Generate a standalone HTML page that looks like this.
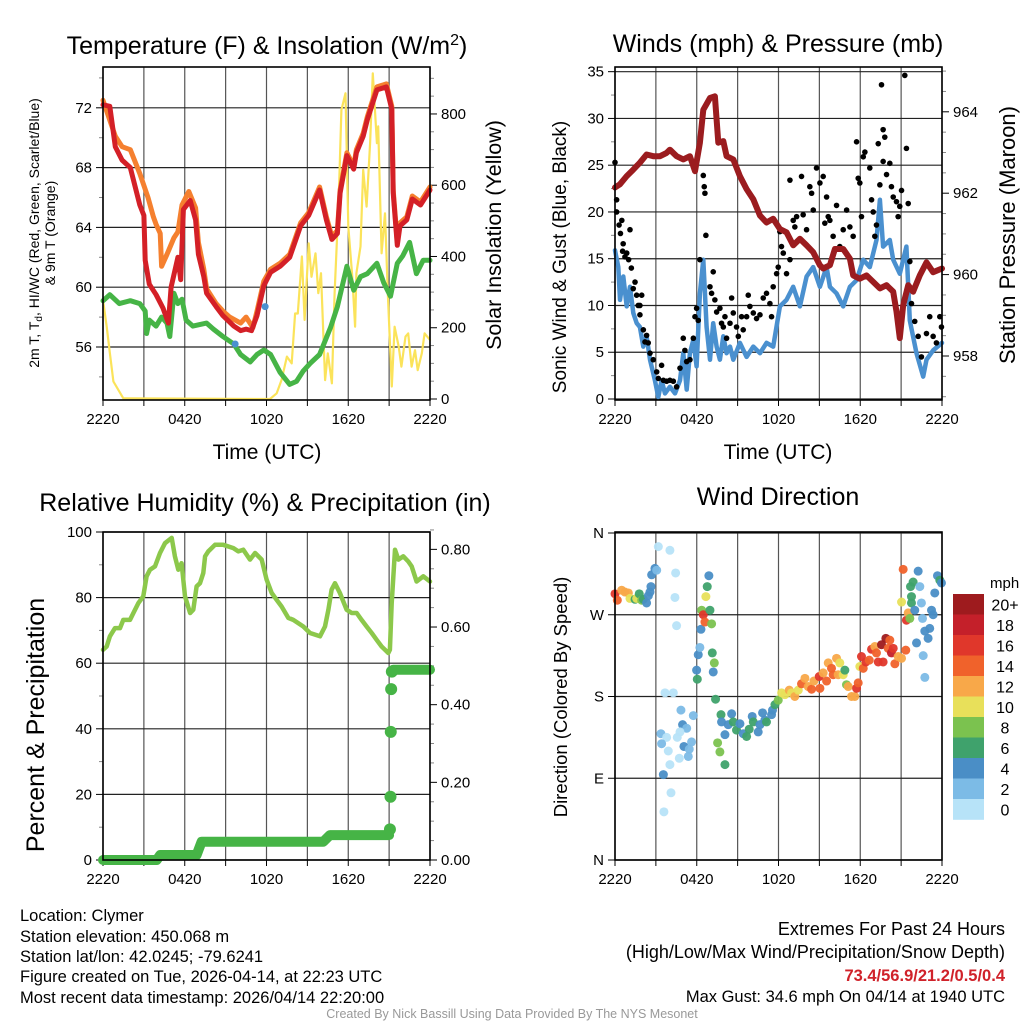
<!DOCTYPE html>
<html><head><meta charset="utf-8"><title>Mesonet Station Meteogram</title>
<style>
html,body{margin:0;padding:0;background:#fff;}
svg{display:block;font-family:"Liberation Sans",Arial,sans-serif;}
</style></head>
<body>
<svg id="fig" width="1024" height="1024" viewBox="0 0 1024 1024" xmlns="http://www.w3.org/2000/svg">
<rect x="0" y="0" width="1024" height="1024" fill="#fff"/>
<!-- titles -->
<text x="267" y="54" font-size="25" text-anchor="middle">Temperature (F) &amp; Insolation (W/m<tspan dy="-9" font-size="16">2</tspan><tspan dy="9">)</tspan></text>
<text x="778" y="52" font-size="25" text-anchor="middle">Winds (mph) &amp; Pressure (mb)</text>
<text x="265" y="511" font-size="25" text-anchor="middle">Relative Humidity (%) &amp; Precipitation (in)</text>
<text x="778" y="505" font-size="25" text-anchor="middle">Wind Direction</text>
<!-- axis titles -->
<text x="267" y="459" font-size="21" text-anchor="middle">Time (UTC)</text>
<text x="778" y="459" font-size="21" text-anchor="middle">Time (UTC)</text>
<text transform="translate(39,233) rotate(-90)" font-size="14" text-anchor="middle">2m T, T<tspan dy="3" font-size="10">d</tspan><tspan dy="-3">, HI/WC (Red, Green, Scarlet/Blue)</tspan></text>
<text transform="translate(55,233) rotate(-90)" font-size="14" text-anchor="middle">&amp; 9m T (Orange)</text>
<text transform="translate(501,235) rotate(-90)" font-size="21.5" text-anchor="middle">Solar Insolation (Yellow)</text>
<text transform="translate(566,257) rotate(-90)" font-size="19" text-anchor="middle">Sonic Wind &amp; Gust (Blue, Black)</text>
<text transform="translate(1015,235) rotate(-90)" font-size="22" text-anchor="middle">Station Pressure (Maroon)</text>
<text transform="translate(44,725) rotate(-90)" font-size="25" text-anchor="middle">Percent &amp; Precipitation</text>
<text transform="translate(567,697) rotate(-90)" font-size="18.5" text-anchor="middle">Direction (Colored By Speed)</text>
<!-- colorbar label -->
<text x="990" y="588" font-size="15">mph</text>
<g id="colorbar"></g>
<!-- footer -->
<g font-size="16.5">
<text x="20" y="921">Location: Clymer</text>
<text x="20" y="942">Station elevation: 450.068 m</text>
<text x="20" y="962">Station lat/lon: 42.0245; -79.6241</text>
<text x="20" y="982">Figure created on Tue, 2026-04-14, at 22:23 UTC</text>
<text x="20" y="1003">Most recent data timestamp: 2026/04/14 22:20:00</text>
</g>
<g font-size="18" text-anchor="end">
<text x="1005" y="935">Extremes For Past 24 Hours</text>
<text x="1005" y="958">(High/Low/Max Wind/Precipitation/Snow Depth)</text>
<text x="1005" y="981" font-size="16.5" fill="#d0222a" font-weight="bold">73.4/56.9/21.2/0.5/0.4</text>
<text x="1005" y="1002" font-size="16.5">Max Gust: 34.6 mph On 04/14 at 1940 UTC</text>
</g>
<text x="512" y="1018" font-size="12.5" fill="#999" text-anchor="middle">Created By Nick Bassill Using Data Provided By The NYS Mesonet</text>
<g id="plots"></g>
</svg>
<script>
// ---------- DATA ----------
const xTickLabels = ["2220","0420","1020","1620","2220"];
const xTickHours = [0,6,12,18,24];

const redH=[0,0.5,0.9,1.4,2.0,2.7,3.0,3.1,3.4,3.9,4.4,4.8,5.0,5.5,5.7,5.9,6.4,6.8,7.0,7.4,7.6,8.3,8.8,9.6,10.1,10.5,10.9,11.3,11.8,12.3,13.0,13.7,14.5,15.1,15.9,16.4,16.8,17.2,17.4,17.9,18.4,18.6,19.1,19.4,20.1,20.8,21.2,21.3,21.6,21.8,22.3,22.7,23.3,24];
const redT=[72.2,72.1,69.4,68.5,68.0,65.5,64.8,61.8,60.2,59.5,58.6,57.6,60.0,62.0,60.5,65.2,65.8,64.5,62.2,60.7,59.6,58.7,58.1,57.4,57.1,57.2,57.1,58.1,60.1,61.0,61.4,62.0,64.1,64.8,66.5,64.5,63.2,63.6,66.3,68.8,67.9,69.0,70.1,71.2,73.2,73.4,71.9,66.3,62.8,64.1,64.5,65.9,65.5,66.5];
const orH=[0,0.9,1.4,2.0,2.7,3.3,3.7,3.9,4.2,4.3,4.7,5.2,5.5,5.8,6.3,6.8,7.0,7.4,7.6,8.3,8.8,9.3,10.1,10.5,11.0,11.3,11.8,12.3,13.0,13.7,14.5,15.1,15.9,16.4,16.8,17.2,17.4,17.9,18.4,18.6,19.1,19.4,20.1,20.8,21.2,21.3,21.6,21.8,22.3,22.7,23.3,24];
const orT=[72.5,70.1,69.4,69.2,67.6,66.0,64.7,64.2,63.6,61.4,62.2,63.3,63.7,65.5,66.4,65.3,63.0,61.2,59.9,58.9,58.4,58.0,57.6,58.0,57.3,58.4,60.4,61.2,61.6,62.2,64.3,65.0,66.7,64.7,63.4,63.8,66.5,69.0,68.1,69.2,70.3,71.4,73.4,73.6,72.1,66.5,63.0,64.3,64.7,66.1,65.7,66.7];
const dwH=[0,0.5,1.2,2.0,2.7,3.1,3.2,3.4,3.9,4.3,4.7,4.9,5.2,5.5,5.8,6.1,6.6,7.1,7.6,8.1,8.8,9.6,10.1,10.8,11.3,11.8,12.3,13.0,13.7,14.2,14.7,15.2,15.9,16.7,17.2,17.9,18.4,18.9,19.4,20.1,20.6,21.1,21.6,22.0,22.5,23.0,23.5,24];
const dwT=[59.1,59.5,58.9,59.1,58.9,58.4,56.9,57.8,57.4,58.0,57.6,56.7,59.6,58.9,59.2,57.8,57.4,57.5,57.6,57.2,56.7,56.2,55.5,55.0,55.5,55.8,55.5,54.3,53.5,53.7,54.4,54.9,55.5,57.3,58.7,61.4,59.8,60.7,60.9,61.6,60.3,59.4,61.6,62.1,63.0,60.9,61.8,61.8];
const hiH=[9.7,11.9];
const hiT=[56.2,58.7];
const solH=[0,0.27,0.51,0.76,1.49,12.26,12.75,13.1,13.5,13.85,14.1,14.3,14.6,14.8,15.1,15.3,15.6,15.8,16.0,16.3,16.5,16.8,17.0,17.3,17.5,17.8,18.0,18.3,18.5,18.6,18.9,19.1,19.35,19.6,19.8,20.1,20.2,20.45,20.7,20.9,21.2,21.4,21.7,21.9,22.2,22.4,22.65,22.9,23.1,23.4,23.6,24];
const solW=[278,203,128,49,2,0,16,53,119,100,240,240,400,222,437,343,409,297,353,53,128,44,297,559,811,858,484,343,203,353,428,643,540,718,914,718,765,409,521,297,35,203,147,91,175,184,91,137,81,128,184,166];

const prH=[0,0.37,0.86,1.34,1.83,2.32,2.81,3.3,3.79,4.03,4.52,5.01,5.5,5.87,6.23,6.48,6.97,7.33,7.58,7.95,8.19,8.68,9.17,9.66,10.15,10.64,11.12,11.61,12.1,12.59,13.08,13.57,14.06,14.55,15.04,15.28,15.77,16.14,16.75,17.24,17.48,17.97,18.46,18.95,19.44,19.93,20.42,20.66,20.9,21.15,21.52,21.88,22.37,22.86,23.35,24];
const prP=[962.14,962.22,962.42,962.58,962.75,962.95,962.91,962.91,962.99,963.07,962.91,962.83,962.91,962.54,963.24,964.05,964.34,964.38,963.24,963.28,962.91,962.83,962.42,962.10,961.85,961.45,961.28,961.37,961.12,961.04,960.72,960.88,960.72,960.55,960.23,960.15,960.23,960.63,960.63,960.39,959.98,959.90,959.98,959.82,959.66,959.74,959.58,959.09,958.44,959.25,959.74,959.58,959.98,960.30,960.06,960.15];
const wsH=[0,0.24,0.37,0.61,0.86,1.1,1.34,1.59,1.83,2.08,2.32,2.57,2.93,3.18,3.42,3.67,4.03,4.4,4.77,5.01,5.26,5.5,5.75,5.99,6.23,6.48,6.72,6.97,7.21,7.46,7.7,7.95,8.19,8.44,8.68,9.17,9.66,10.15,10.64,11.12,11.61,12.1,12.59,13.08,13.57,14.06,14.55,15.04,15.53,15.77,16.26,16.75,17.24,17.73,18.22,18.7,19.19,19.44,19.68,20.17,20.42,20.9,21.39,21.64,22.13,22.62,22.86,23.35,24];
const wsV=[15.9,14.1,10.6,13.1,9.9,12.0,9.2,8.1,7.7,5.6,6.7,4.2,2.0,0.2,2.0,0.6,1.3,0.6,2.0,4.9,1.0,4.9,6.3,3.5,11.3,14.9,7.7,4.2,8.1,5.6,4.2,6.7,4.9,5.6,4.2,6.0,4.5,5.6,4.9,6.0,5.6,9.9,10.6,12.0,9.9,13.1,14.1,12.0,14.1,12.0,11.3,9.9,12.0,12.7,14.9,14.1,17.0,21.3,16.3,17.0,14.9,13.4,16.3,8.4,4.9,2.4,4.2,5.2,6.0];
const gustH=[0,0.12,0.12,0.3,0.5,0.4,0.6,0.56,0.73,0.86,1,1.1,1.2,1.34,1.47,1.59,1.7,1.83,1.96,1.83,2.08,2.32,2.2,2.44,2.57,2.81,3.06,3.18,3.42,3.55,3.79,4.03,4.28,4.52,4.77,5.01,5.13,5.26,5.5,5.75,5.87,5.99,6.11,6.23,6.48,6.55,6.6,6.67,6.97,7.09,7.21,7.33,7.46,7.7,7.82,7.95,8.07,8.19,8.44,8.56,8.68,8.92,9.05,9.29,9.41,9.66,9.78,9.9,10.15,10.39,10.64,10.88,11.12,11.37,11.49,11.61,11.86,11.98,12.1,12.22,12.35,12.59,12.84,12.84,13.08,13.2,13.33,13.57,13.69,13.81,14.06,14.3,14.43,14.55,14.79,15.04,15.28,15.4,15.53,15.65,15.77,16.01,16.26,16.5,16.75,17,17.24,17.48,17.73,17.85,17.97,18.09,18.22,18.34,18.7,18.83,18.95,19.07,19.19,19.32,19.44,19.56,19.68,19.8,19.68,19.93,20.17,20.29,20.42,20.66,20.78,20.9,21.03,21.27,21.39,21.52,21.64,21.76,22.0,22.25,22.49,22.86,23.1,23.35,23.59,23.84,23.96];
const gustV=[25.3,21.3,20,18.6,19.1,17.7,16.6,15.8,15.2,15.6,14.9,18.1,14,11.8,12.5,11.1,10,10,11.1,9,7.4,6.8,6.1,6,4.9,4.2,2.9,2.2,3.6,2,1.9,2,1.9,1.3,3.3,6.5,5.2,4,4.2,6.5,8.8,9.7,8.4,14.9,23.9,22.7,22,17.5,12,11.3,13.6,10.6,9.3,9.7,8.1,7.7,8.8,6.5,8.1,10.8,9.2,7.7,6.7,8.8,7.4,8.8,11.1,9.9,9.2,8.6,9,10.8,11.3,10.2,8.8,12,13.4,14.1,17.9,16.3,15.6,13.4,23.4,14.9,19.1,18.4,19.5,17,23.8,19.7,18.1,22.7,22,20.2,24.7,23.1,23.8,18.8,21.6,19.5,19.1,17.4,20.7,16.3,18.1,20.2,18.4,17.4,27.5,23.6,23.1,19.5,25.9,26.4,24.7,21.3,20,17.4,18.6,27.3,22.9,33.6,28.8,28,25.4,24,25.2,22.7,21.6,21.1,19.5,20.6,22.3,34.6,26.8,20.9,14.7,10.2,8.3,6.7,4.5,7,8.8,6.7,6,8.8,7.7];

const rhH=[0,0.27,0.51,0.88,1.25,1.49,1.98,2.23,2.59,2.96,3.2,3.45,3.82,4.18,4.55,5.04,5.28,5.53,5.77,6.02,6.39,6.63,6.87,7.12,7.36,7.49,7.73,8.22,8.83,9.57,9.93,10.3,10.79,11.16,11.65,12.01,12.38,12.75,13.11,13.6,13.97,14.7,15.19,15.93,16.29,16.54,16.78,17.03,17.39,17.88,18.25,18.62,18.98,19.35,19.72,20.09,20.45,20.94,21.06,21.19,21.43,21.68,22.04,22.41,22.66,23.02,23.51,24];
const rhV=[64.1,65.1,68.2,70.7,70.7,73.2,73.2,75.3,78.3,80.4,86.5,88.5,89.5,93.6,96.6,98.2,92.6,88.5,90.5,80.4,75.3,76.3,83.4,84.4,87.5,92.6,94.1,96.1,96.1,95.1,94.1,94.6,91.6,93.6,91.6,85.5,81.4,79.3,77.3,73.8,73.2,71.2,69.2,68.2,71.2,76.3,82.4,84.4,81.4,76.3,75.3,75.3,73.2,71.2,69.2,67.1,65.1,63.1,64.1,78.3,94.6,91.6,92.6,91.0,89.5,84.9,86.5,84.9];
const pcpH=[0,3.94,4.2,6.87,7.24,16.17,16.66,21.0];
const pcpV=[0,0,0.013,0.013,0.047,0.047,0.064,0.064];
const pcpDotH=[21.06,21.1,21.12,21.15,21.2];
const pcpDotV=[0.079,0.163,0.33,0.44,0.485];
const pcp2H=[21.3,24];
const pcp2V=[0.49,0.49];

const wdH=[0,0.17,0.49,0.73,0.98,1.1,1.47,1.59,1.78,1.96,2.08,2.32,2.45,2.57,2.64,2.69,2.93,3.06,3.18,4.03,4.45,4.4,4.52,3.67,4.28,4.84,4.96,5.26,5.75,3.37,3.79,4.57,4.77,3.42,3.91,5.06,5.45,5.62,4.72,5.38,4.03,3.55,4.11,3.59,5.99,6.04,6.11,6.23,6.31,6.36,6.48,6.6,6.77,6.89,6.67,6.97,7.09,7.14,7.29,7.21,7.38,7.78,7.82,7.53,7.7,8.07,8.07,8.31,8.56,8.68,8.92,9.17,9.41,9.66,9.85,10.07,10.15,10.51,10.64,10.83,11.0,11.12,11.49,11.56,11.74,11.98,12.23,12.47,12.79,12.96,13.2,13.45,13.69,13.94,14.18,14.43,14.6,14.99,15.04,15.28,15.53,15.65,15.89,16.01,16.26,16.38,16.5,16.75,16.87,16.99,17.12,17.36,17.6,17.73,17.85,17.97,18.09,18.22,18.41,18.66,18.83,19.07,19.19,19.32,19.56,19.68,19.88,20.05,20.17,20.29,20.42,20.54,20.78,21.03,21.15,21.34,21.39,21.52,21.64,21.03,21.76,21.69,21.88,22.0,22.13,22.25,22.37,22.49,22.57,22.62,22.74,22.74,22.98,23.1,23.23,23.35,23.47,23.67,23.84,23.96,21.76];
const wdD=[293,286,297,295,294,288,287,288,293,286,287,283,291,295,301,314,321,319,345,341,316,289,258,184,184,165,149,145,159,139,135,135,141,128,120,125,122,130,112,114,105,94,74,53,209,199,226,234,254,275,270,262,301,313,290,275,260,228,217,207,177,160,152,129,119,105,138,149,161,152,143,150,139,136,144,158,152,141,149,162,154,152,160,165,171,176,184,182,187,184,180,187,194,200,191,188,197,202,189,206,197,217,211,204,222,204,217,204,209,193,191,180,180,189,195,213,224,211,218,220,232,235,228,218,237,218,244,233,242,228,233,216,224,222,320,231,264,272,266,284,283,301,306,275,239,318,301,283,266,225,201,252,244,255,275,270,294,313,308,305,290];
const wdS=[16,14,12,12,12,10,6,10,6,8,6,4,4,4,4,4,4,2,0,0,0,0,0,0,0,2,4,2,2,2,0,0,0,2,0,4,2,2,0,2,0,4,0,0,4,6,4,2,4,8,16,14,6,4,10,6,8,6,8,4,6,6,4,8,8,6,4,4,4,6,6,4,4,6,6,4,6,4,4,4,4,6,4,4,6,8,10,10,12,10,12,10,14,12,12,14,12,16,14,12,14,12,14,14,12,12,10,10,6,8,12,12,12,16,14,10,16,14,16,14,16,12,14,16,20,16,20,14,14,18,16,14,12,12,14,14,16,12,8,10,6,6,6,4,4,4,2,2,2,2,2,4,4,4,4,4,4,4,6,4,6];
const cbLabels=["0","2","4","6","8","10","12","14","16","18","20+"];
const cbColors=["#b7e3f8","#7cbbe6","#4a8ec6","#3fa26c","#7bc24f","#e8e05a","#f8a849","#f0622b","#e0372b","#c4202a","#9e1b1e"];

// ---------- HELPERS ----------
const NS="http://www.w3.org/2000/svg";
const root=document.getElementById('plots');
function mk(tag,attrs,parent){const e=document.createElementNS(NS,tag);for(const k in attrs)e.setAttribute(k,attrs[k]);(parent||root).appendChild(e);return e;}
function pts(hs,vs,fx,fy){const n=Math.min(hs.length,vs.length);let s=[];for(let i=0;i<n;i++)s.push(fx(hs[i]).toFixed(1)+','+fy(vs[i]).toFixed(1));return s.join(' ');}

function panel(name,x0,x1,y0,y1){
  const g=mk('g',{});
  
  
  const fx=h=>x0+h*(x1-x0)/24;
  for(let h=0;h<=24;h+=3){
    const l=mk('line',{x1:fx(h),x2:fx(h),y1:y0,y2:y1,stroke:'#555','stroke-width':1.2},g);
    
    
    const t=mk('line',{x1:fx(h),x2:fx(h),y1:y1,y2:y1+6,stroke:'#000','stroke-width':1},g);
    
    
  }
  for(let i=0;i<xTickLabels.length;i++){
    const t=mk('text',{x:fx(xTickHours[i]),y:y1+24,'font-size':15,'text-anchor':'middle'},g);
    t.textContent=xTickLabels[i];
    
    
  }
  return {g,fx};
}
function hgrid(g,x0,x1,vals,fy){
  vals.forEach(v=>{const l=mk('line',{x1:x0,x2:x1,y1:fy(v),y2:fy(v),stroke:'#222','stroke-width':1.2},g);
    
    });
}
function yTicks(g,x,side,vals,fy,labels,minor){
  vals.forEach((v,i)=>{
    const l=mk('line',{x1:x,x2:x+side*7,y1:fy(v),y2:fy(v),stroke:'#000','stroke-width':1},g);
    
    
    if(labels){const t=mk('text',{x:x+side*11,y:fy(v)+5,'font-size':15,'text-anchor':side<0?'end':'start'},g);
      t.textContent=labels[i];
      
      }
  });
  (minor||[]).forEach(v=>{const l=mk('line',{x1:x,x2:x+side*4,y1:fy(v),y2:fy(v),stroke:'#888','stroke-width':1},g);
    
    });
}
function frame(g,x0,x1,y0,y1){const r=mk('rect',{x:x0,y:y0,width:x1-x0,height:y1-y0,fill:'none',stroke:'#000','stroke-width':1.6},g);
  
  }
function line(g,hs,vs,fx,fy,color,w,name){const p=mk('polyline',{points:pts(hs,vs,fx,fy),fill:'none',stroke:color,'stroke-width':w,'stroke-linejoin':'round','stroke-linecap':'round'},g);
  
  return p;}
function range(a,b,s){const r=[];for(let v=a;v<=b+1e-9;v+=s)r.push(+v.toFixed(3));return r;}

// ---------- PANEL 1: Temperature ----------
(function(){
  const X0=103,X1=430,Y0=67,Y1=400;
  const {g,fx}=panel('temperature',X0,X1,Y0,Y1);
  const yT=T=>347-(T-56)*14.95;
  const yS=W=>399-W*0.3563;
  const tMaj=[56,60,64,68,72];
  hgrid(g,X0,X1,tMaj,yT);
  yTicks(g,X0,-1,tMaj,yT,tMaj.map(String),[54,58,62,66,70,74]);
  const sMaj=[0,200,400,600,800];
  yTicks(g,X1,1,sMaj,yS,sMaj.map(String),range(50,900,50).filter(v=>v%200));
  line(g,solH,solW,fx,yS,'#fbe35a',2.2,'solar-insolation-line');
  line(g,dwH,dwT,fx,yT,'#46b446',5,'dewpoint-line');
  line(g,orH,orT,fx,yT,'#f5802f',5,'temperature-9m-line');
  line(g,redH,redT,fx,yT,'#d42027',5,'temperature-2m-line');
  for(let i=0;i<hiH.length;i++){const c=mk('circle',{cx:fx(hiH[i]),cy:yT(hiT[i]),r:3.5,fill:'#4a90cf'},g);
    
    }
  frame(g,X0,X1,Y0,Y1);
})();

// ---------- PANEL 2: Winds ----------
(function(){
  const X0=615,X1=942,Y0=67,Y1=400;
  const {g,fx}=panel('winds',X0,X1,Y0,Y1);
  const yW=m=>399-m*(332/35.5);
  const yP=p=>356-(p-958)*40.7;
  const wMaj=[0,5,10,15,20,25,30,35];
  hgrid(g,X0,X1,wMaj,yW);
  yTicks(g,X0,-1,wMaj,yW,wMaj.map(String),range(2.5,32.5,5));
  const pMaj=[958,960,962,964];
  yTicks(g,X1,1,pMaj,yP,pMaj.map(String),range(957,965,0.5).filter(v=>Math.abs(v%2)>0.01));
  line(g,wsH,wsV,fx,yW,'#4a90cf',4.5,'sonic-wind-line');
  const n=Math.min(gustH.length,gustV.length);
  for(let i=0;i<n;i++){const c=mk('circle',{cx:fx(gustH[i]),cy:yW(gustV[i]),r:2.8,fill:'#000'},g);
    
    }
  line(g,prH,prP,fx,yP,'#9b1c1f',6,'station-pressure-line');
  frame(g,X0,X1,Y0,Y1);
})();

// ---------- PANEL 3: Humidity ----------
(function(){
  const X0=103,X1=430,Y0=532,Y1=860;
  const {g,fx}=panel('humidity',X0,X1,Y0,Y1);
  const yR=r=>860-r*3.28;
  const yPc=p=>860-p*388.3;
  const rMaj=[0,20,40,60,80,100];
  hgrid(g,X0,X1,rMaj,yR);
  yTicks(g,X0,-1,rMaj,yR,rMaj.map(String),[10,30,50,70,90]);
  const pMaj=[0,0.2,0.4,0.6,0.8];
  yTicks(g,X1,1,pMaj,yPc,pMaj.map(v=>v.toFixed(2)),range(0.05,0.85,0.05).filter(v=>Math.abs((v*100)%20)>0.5));
  line(g,rhH,rhV,fx,yR,'#8cc84b',4.5,'relative-humidity-line');
  line(g,pcpH,pcpV,fx,yPc,'#46b446',10,'precipitation-line');
  line(g,pcp2H,pcp2V,fx,yPc,'#46b446',10,'precipitation-line-late');
  for(let i=0;i<pcpDotH.length;i++){const c=mk('circle',{cx:fx(pcpDotH[i]),cy:yPc(pcpDotV[i]),r:6,fill:'#46b446'},g);
    
    }
  frame(g,X0,X1,Y0,Y1);
})();

// ---------- PANEL 4: Wind Direction ----------
(function(){
  const X0=615,X1=942,Y0=532,Y1=860;
  const {g,fx}=panel('wind-direction',X0,X1,Y0,Y1);
  const yD=d=>860-d*(327/360);
  const dMaj=[0,90,180,270,360];
  const dLab=["N","E","S","W","N"];
  hgrid(g,X0,X1,dMaj,yD);
  yTicks(g,X0,-1,dMaj,yD,dLab,[]);
  const n=Math.min(wdH.length,wdD.length,wdS.length);
  for(let i=0;i<n;i++){
    const idx=Math.min(10,Math.round(wdS[i]/2));
    const c=mk('circle',{cx:fx(wdH[i]),cy:yD(wdD[i]),r:4.5,fill:cbColors[idx],'fill-opacity':0.95},g);
    
    
  }
  frame(g,X0,X1,Y0,Y1);
  const cb=document.getElementById('colorbar');
  const top=594,h=20.5;
  for(let i=0;i<cbColors.length;i++){
    const k=cbColors.length-1-i;
    const r=mk('rect',{x:953,y:top+i*h,width:31,height:h+0.3,fill:cbColors[k]},cb);
    
    
    const t=mk('text',{x:1005,y:top+i*h+h/2+6,'font-size':16,'text-anchor':'middle'},cb);
    t.textContent=cbLabels[k];
    
    
  }
})();
</script>
</body></html>
